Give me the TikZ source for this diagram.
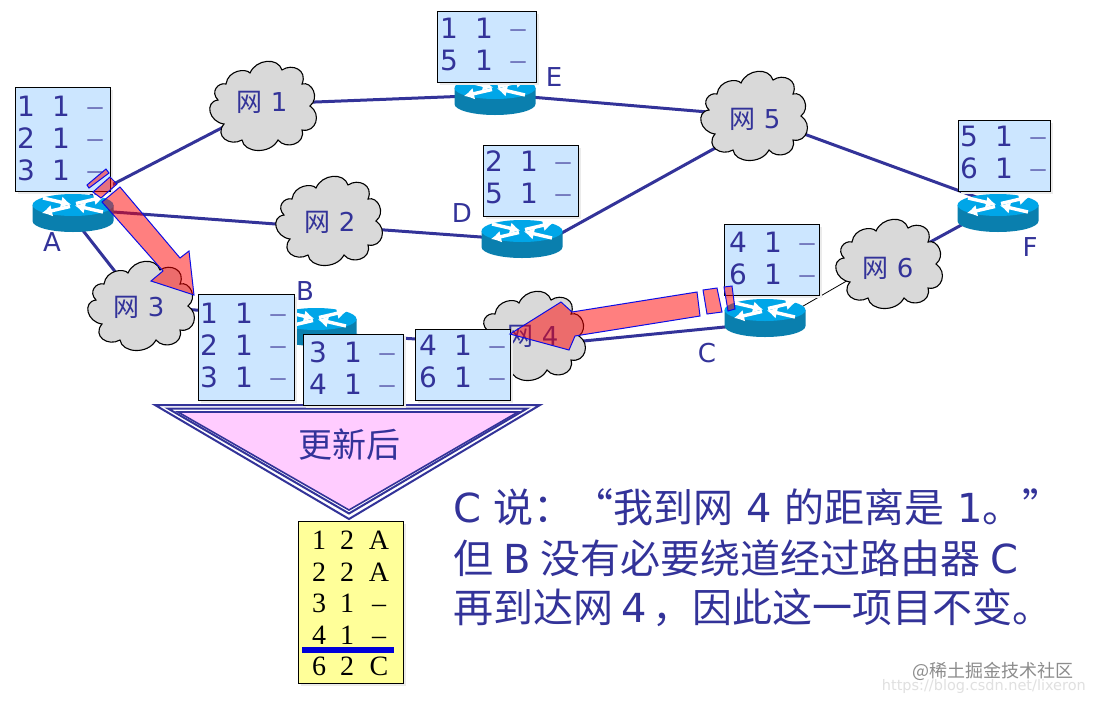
\documentclass[tikz,border=0pt]{standalone}
\usepackage{fontspec}
\setmainfont{DejaVu Sans}
\newfontfamily\cjk{Noto Sans CJK SC}
\newfontfamily\serifnum{Liberation Serif}
\usetikzlibrary{arrows.meta}
\pgfdeclarelayer{bg}
\pgfsetlayers{bg,main}
\definecolor{navy}{HTML}{333399}
\definecolor{tblue}{HTML}{CCE6FF}
\definecolor{tyellow}{HTML}{FFFF99}
\definecolor{tpink}{HTML}{FFCCFF}
\definecolor{cloudgray}{HTML}{D9D9D9}
\definecolor{rtop}{HTML}{00A6E8}
\definecolor{rside}{HTML}{0A7FAE}
\tikzset{
 link/.style={draw=navy,line width=3pt},
 thinlink/.style={draw=black,line width=0.8pt},
 cloudshape/.style={fill=cloudgray,draw=black,line width=1.1pt},
 netlabel/.style={text=navy,inner sep=0pt,font=\fontsize{26}{30}\selectfont},
 tblbox/.style={draw=black,line width=1pt,fill=tblue,anchor=north west,inner sep=0pt},
 yelbox/.style={draw=black,line width=1pt,fill=tyellow,anchor=north west,inner sep=0pt},
 shadowbox/.style={fill=black!8,draw=none},
 cellnum/.style={text=navy,inner sep=0pt,anchor=base,font=\fontsize{28}{30}\selectfont},
 celldash/.style={text=navy!80,inner sep=0pt,anchor=base,font=\serifnum\fontsize{30}{30}\selectfont},
 ycell/.style={text=black,inner sep=0pt,anchor=base,font=\serifnum\fontsize{28}{30}\selectfont},
 rlabel/.style={text=navy,inner sep=0pt,font=\fontsize{26}{30}\selectfont},
 bigtext/.style={text=navy,inner sep=0pt,anchor=base west,font=\fontsize{40}{44}\selectfont},
 redarrow/.style={fill=red,fill opacity=0.5,draw=blue!75!navy,line width=1pt,line join=miter},
 rarrow/.style={white,line width=3.4pt,-{Latex[length=10pt,width=12pt]}},
}
\newcount\cellno
\newcommand{\nextcell}{\global\advance\cellno by 1\relax}
% cloud: name, x, y, number, label dx, label dy
\newcommand{\netcloud}[6]{%
 \draw[cloudshape,shift={(#2,#3)}] (-38,-22)
  .. controls (-36,-36) and (-18,-38) .. (-14,-33)
  .. controls (-8,-47) and (14,-49) .. (18,-36)
  .. controls (28,-43) and (44,-36) .. (38,-22)
  .. controls (48,-25) and (56,-8) .. (46,0)
  .. controls (58,8) and (52,27) .. (38,24)
  .. controls (42,38) and (22,44) .. (14,34)
  .. controls (6,49) and (-20,47) .. (-22,34)
  .. controls (-34,41) and (-50,30) .. (-40,18)
  .. controls (-55,16) and (-60,-4) .. (-46,-6)
  .. controls (-54,-14) and (-46,-24) .. (-38,-22) -- cycle;
 \coordinate (#1) at (#2,#3);
 \node[netlabel] (#1l) at (#2+#5,#3+#6) {{\cjk 网} #4};}
% router: name, x, y of top ellipse centre
\newcommand{\router}[3]{%
 \coordinate (#1) at (#2,#3);
 \begin{scope}[shift={(#2,#3)}]
  \fill[rside] (-40.5,0) -- (-40.5,16) arc[start angle=180,end angle=0,x radius=40.5,y radius=11] -- (40.5,0) -- cycle;
  \fill[rtop] (0,0) ellipse[x radius=40.5,y radius=11];
  \draw[rarrow] (-3,1.5) -- (-31,8);
  \draw[rarrow] (-30,-7) -- (-2,-0.5);
  \draw[rarrow] (3,-1.5) -- (31,-8);
  \draw[rarrow] (30,7) -- (2,0.5);
 \end{scope}}
% table box: name, x0,y0,x1,y1
\newcommand{\tblb}[5]{%
 \fill[shadowbox] (#2+3,#3+3) rectangle (#4+3,#5+3);
 \pgfmathsetmacro\boxw{#4-#2}\pgfmathsetmacro\boxh{#5-#3}%
 \node[tblbox,minimum width=\boxw pt,minimum height=\boxh pt] (#1) at (#2,#3) {};}
% row: x first digit, y centre, digit, digit
\newcommand{\trow}[4]{%
 \begin{scope}[shift={(#1,#2)}]
 \nextcell\node[cellnum] (c\the\cellno) at (1,10) {#3};
 \nextcell\node[cellnum] (c\the\cellno) at (36,10) {#4};
 \nextcell\node[celldash] (c\the\cellno) at (70,9) {–};
 \end{scope}}
\newcommand{\yrow}[4]{%
 \nextcell\node[ycell] (c\the\cellno) at (319,#1) {#2};
 \nextcell\node[ycell] (c\the\cellno) at (347,#1) {#3};
 \nextcell\node[ycell] (c\the\cellno) at (379,#1) {#4};}
\begin{document}
\begin{tikzpicture}[x=1pt,y=-1pt]
\useasboundingbox (0,0) rectangle (1094,702);
% clouds
\netcloud{nA}{264}{106}{1}{-2}{-4}
\netcloud{nB}{330}{221}{2}{0}{1}
\netcloud{nC}{142}{306}{3}{-3}{1}
\netcloud{nD}{533}{336}{4}{0}{0}
\netcloud{nE}{755}{116}{5}{0}{3}
\netcloud{nF}{890}{264}{6}{-2}{4}
% routers
\router{A}{73}{205}
\router{E}{495}{88}
\router{D}{522}{231}
\router{F}{998}{205}
\router{C}{765}{310}
\router{B}{316}{319}
% connectors
\begin{pgfonlayer}{bg}
\fill[white] (0,0) rectangle (1094,702);
\draw[link] (A) -- (nA);
\draw[link] ([yshift=-4pt]A) -- ([yshift=-7pt]nB);
\draw[link] ([xshift=-10pt]A) -- (nC);
\draw[link] ([yshift=2pt]nA) -- ([yshift=-7pt]E);
\draw[link] ([yshift=-5pt]nB) -- ([yshift=-9pt]D);
\draw[link] ([yshift=-24pt]D) -- ([yshift=-10pt]nE);
\draw[link] ([yshift=-6pt]E) -- (nE);
\draw[link] (nE) -- (F);
\draw[link] (F) -- (nF);
\draw[thinlink] ([yshift=-18pt]C) -- ([yshift=8pt]nF);
\draw[link] ([yshift=-13pt]C) -- ([yshift=-10pt]nD);
\draw[link] (nC) -- (B);
\draw[link] ([yshift=-14pt]B) -- ([yshift=-10pt]nD);
\end{pgfonlayer}
% router labels
\node[rlabel] (la) at (52,242) {A};
\node[rlabel] (le) at (554,77) {E};
\node[rlabel] (ld) at (462,213) {D};
\node[rlabel] (lb) at (305,291) {B};
\node[rlabel] (lf) at (1030,247) {F};
\node[rlabel] (lc) at (707,353) {C};
% triangle
\draw[fill=white,draw=navy,line width=2pt,line join=miter] (155,405) -- (540,405) -- (349,519) -- cycle;
\draw[fill=white,draw=navy,line width=2pt,line join=miter] (168,408.5) -- (527,408.5) -- (349,513.5) -- cycle;
\draw[fill=tpink,draw=navy,line width=1.6pt,line join=miter] (178,412) -- (518,412) -- (349,510) -- cycle;
\node[text=navy,inner sep=0pt,font=\cjk\fontsize{34}{36}\selectfont] (upd) at (349,445) {更新后};
% tables
\tblb{tA}{15}{87}{110}{191}
\trow{25}{106}{1}{1}\trow{25}{138}{2}{1}\trow{25}{170}{3}{1}
\tblb{tE}{437}{11}{536}{82}
\trow{448}{28}{1}{1}\trow{448}{60}{5}{1}
\tblb{tD}{483}{145}{578}{216}
\trow{493}{161}{2}{1}\trow{493}{193}{5}{1}
\tblb{tF}{958}{120}{1050}{191}
\trow{968}{136}{5}{1}\trow{968}{168}{6}{1}
\tblb{tC}{724}{224}{819}{295}
\trow{737}{242}{4}{1}\trow{737}{274}{6}{1}
\tblb{tBa}{198}{294}{294}{400}
\trow{208}{313}{1}{1}\trow{208}{345}{2}{1}\trow{208}{377}{3}{1}
\tblb{tBb}{303}{334}{403}{405}
\trow{317}{352}{3}{1}\trow{317}{384}{4}{1}
\tblb{tBc}{415}{329}{510}{400}
\trow{427}{345}{4}{1}\trow{427}{377}{6}{1}
% yellow table
\fill[shadowbox] (301,524) rectangle (406,686);
\node[yelbox,minimum width=105pt,minimum height=162pt] (tY) at (298,521) {};
\yrow{549}{1}{2}{A}\yrow{581}{2}{2}{A}\yrow{612}{3}{1}{–}\yrow{644}{4}{1}{–}\yrow{675}{6}{2}{C}
\fill[blue!85!black] (302,647) rectangle (394,653);
% red arrows
\draw[redarrow] (120,187) -- (180,258) -- (189,251) -- (194,295) -- (151,281) -- (163,271) -- (102,202) -- cycle;
\draw[redarrow] (93,192) -- (110,177) -- (117,184) -- (101,198) -- cycle;
\draw[redarrow] (87,185) -- (106,169) -- (109,173) -- (89,188) -- cycle;
\draw[redarrow] (697,292) -- (572,312) -- (561,302) -- (510,334) -- (569,350) -- (575,336) -- (700,316) -- cycle;
\draw[redarrow] (703,290) -- (717,288) -- (722,312) -- (707,314) -- cycle;
\draw[redarrow] (724,287) -- (732,286) -- (735,309) -- (728,311) -- cycle;
% text
\node[bigtext] (s1) at (453,522) {C {\cjk 说：“我到网} 4 {\cjk 的距离是} 1{\cjk 。”}};
\node[bigtext] (s2) at (453,573) {{\cjk 但}\kern10pt B\kern10pt{\cjk 没有必要绕道经过路由器}\kern10pt C};
\node[bigtext] (s3) at (453,622) {{\cjk 再到达网}\kern8pt 4\kern6pt{\cjk ，因此这一项目不变。}};
% watermark
\node[text=black!45,inner sep=0pt,anchor=base east,font=\cjk\fontsize{18}{20}\selectfont] (w1) at (1074,677) {@稀土掘金技术社区};
\node[text=black!12,inner sep=0pt,anchor=base east,font=\fontsize{14.5}{20}\selectfont] (w2) at (1086,690) {https://blog.csdn.net/lixeron};
\end{tikzpicture}
\end{document}
